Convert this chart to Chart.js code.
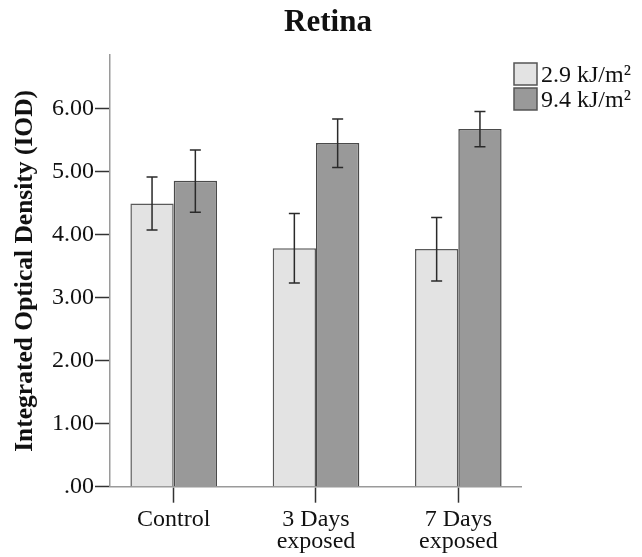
<!DOCTYPE html>
<html>
<head>
<meta charset="utf-8">
<script src="https://cdn.jsdelivr.net/npm/chart.js@4/dist/chart.umd.min.js"></script>
<style>
  html, body { margin: 0; padding: 0; background: #ffffff; }
  #wrap { width: 642px; height: 557px; position: relative; }
</style>
</head>
<body>
<div id="wrap"><canvas id="chart" width="642" height="557"></canvas></div>
<script>
// Groups on the x axis (multi-line labels as arrays)
const categories = ['Control', ['3 Days', 'exposed'], ['7 Days', 'exposed']];
// Series names
const seriesNames = ['2.9 kJ/m\u00B2', '9.4 kJ/m\u00B2'];
// Mean integrated optical density per group
const lowDoseMeans = [4.49, 3.78, 3.77];
const highDoseMeans = [4.85, 5.45, 5.67];
// Error bar limits
const lowDoseLower = [4.07, 3.23, 3.26];
const lowDoseUpper = [4.91, 4.33, 4.27];
const highDoseLower = [4.35, 5.06, 5.39];
const highDoseUpper = [5.34, 5.83, 5.95];
// Y axis tick values
const yTicks = [0, 1, 2, 3, 4, 5, 6];

const serif = "'Liberation Serif', 'Times New Roman', serif";
const barColors = ['#e3e3e3', '#999999'];

const errorBars = {
  id: 'errorBars',
  afterDatasetsDraw(chart) {
    const ctx = chart.ctx;
    const y = chart.scales.y;
    const limits = [[lowDoseLower, lowDoseUpper], [highDoseLower, highDoseUpper]];
    ctx.save();
    ctx.strokeStyle = '#2a2a2a';
    ctx.lineWidth = 1.5;
    chart.data.datasets.forEach((ds, di) => {
      const meta = chart.getDatasetMeta(di);
      meta.data.forEach((bar, i) => {
        const x = bar.x;
        const yLo = y.getPixelForValue(limits[di][0][i]);
        const yHi = y.getPixelForValue(limits[di][1][i]);
        const cap = 5.5;
        ctx.beginPath();
        ctx.moveTo(x, yLo); ctx.lineTo(x, yHi);
        ctx.moveTo(x - cap, yLo); ctx.lineTo(x + cap, yLo);
        ctx.moveTo(x - cap, yHi); ctx.lineTo(x + cap, yHi);
        ctx.stroke();
      });
    });
    ctx.restore();
  }
};

const sideLegend = {
  id: 'sideLegend',
  afterDraw(chart) {
    const ctx = chart.ctx;
    const area = chart.chartArea;
    const bx = area.right - 7.7;
    const rowTop = [63, 88];
    ctx.save();
    ctx.font = '24px ' + serif;
    ctx.textBaseline = 'alphabetic';
    ctx.textAlign = 'left';
    chart.data.datasets.forEach((ds, i) => {
      const top = rowTop[i];
      ctx.fillStyle = ds.backgroundColor;
      ctx.fillRect(bx, top, 23, 22);
      ctx.strokeStyle = '#555555';
      ctx.lineWidth = 1.5;
      ctx.strokeRect(bx, top, 23, 22);
      ctx.fillStyle = '#111111';
      ctx.fillText(ds.label, bx + 27, top + 19);
    });
    ctx.restore();
  }
};

const lowData = categories.map((c, i) => ({ x: i, y: lowDoseMeans[i] }));
const highData = categories.map((c, i) => ({ x: i, y: highDoseMeans[i] }));

new Chart(document.getElementById('chart'), {
  type: 'bar',
  data: {
    datasets: [
      { label: seriesNames[0], data: lowData, backgroundColor: barColors[0], borderColor: '#5a5a5a', borderWidth: 1.5 },
      { label: seriesNames[1], data: highData, backgroundColor: barColors[1], borderColor: '#4a4a4a', borderWidth: 1.5 }
    ]
  },
  options: {
    responsive: false,
    animation: false,
    devicePixelRatio: 1,
    categoryPercentage: 0.6086,
    barPercentage: 1.0,
    layout: { padding: { left: 14, right: 0, top: 0, bottom: 0 } },
    plugins: {
      legend: { display: false },
      tooltip: { enabled: false },
      title: {
        display: true,
        text: 'Retina',
        color: '#111111',
        font: { family: serif, size: 31, weight: 'bold', lineHeight: 1.2 },
        padding: { top: 4, bottom: 13.8 }
      }
    },
    scales: {
      x: {
        type: 'linear',
        offset: false,
        min: -0.4476,
        max: 2.4455,
        afterBuildTicks(scale) { scale.ticks = categories.map((c, i) => ({ value: i })); },
        afterFit(scale) { scale.height = 70.3; },
        ticks: {
          callback: (v) => categories[v],
          color: '#111111',
          font: { family: serif, size: 24, lineHeight: 0.92 },
          padding: 6,
          maxRotation: 0,
          autoSkip: false
        },
        grid: { display: true, offset: false, drawOnChartArea: false, drawTicks: true, tickLength: 16, tickColor: '#333333', tickWidth: 1.5 },
        border: { display: true, color: '#9a9a9a', width: 1.5 }
      },
      y: {
        min: 0,
        max: 6.845,
        afterBuildTicks(scale) { scale.ticks = yTicks.map(v => ({ value: v })); },
        afterFit(scale) { scale.width = 96; },
        ticks: {
          callback: (v) => (v === 0 ? '.00' : v.toFixed(2)),
          color: '#111111',
          font: { family: serif, size: 24 },
          padding: 1
        },
        grid: { display: true, drawOnChartArea: false, drawTicks: true, tickLength: 15, tickColor: '#333333', tickWidth: 1.5 },
        border: { display: true, color: '#9a9a9a', width: 1.5 },
        title: {
          display: true,
          text: 'Integrated Optical Density (IOD)',
          color: '#111111',
          font: { family: serif, size: 25.5, weight: 'bold', lineHeight: 0.9 },
          padding: { top: 0, bottom: 0 }
        }
      },
      // empty right-hand strip that holds the legend
      legendSpace: {
        type: 'linear',
        position: 'right',
        min: 0,
        max: 1,
        afterFit(scale) { scale.width = 120.3; },
        ticks: { display: false },
        grid: { display: false },
        border: { display: false }
      }
    }
  },
  plugins: [errorBars, sideLegend]
});
</script>
</body>
</html>
